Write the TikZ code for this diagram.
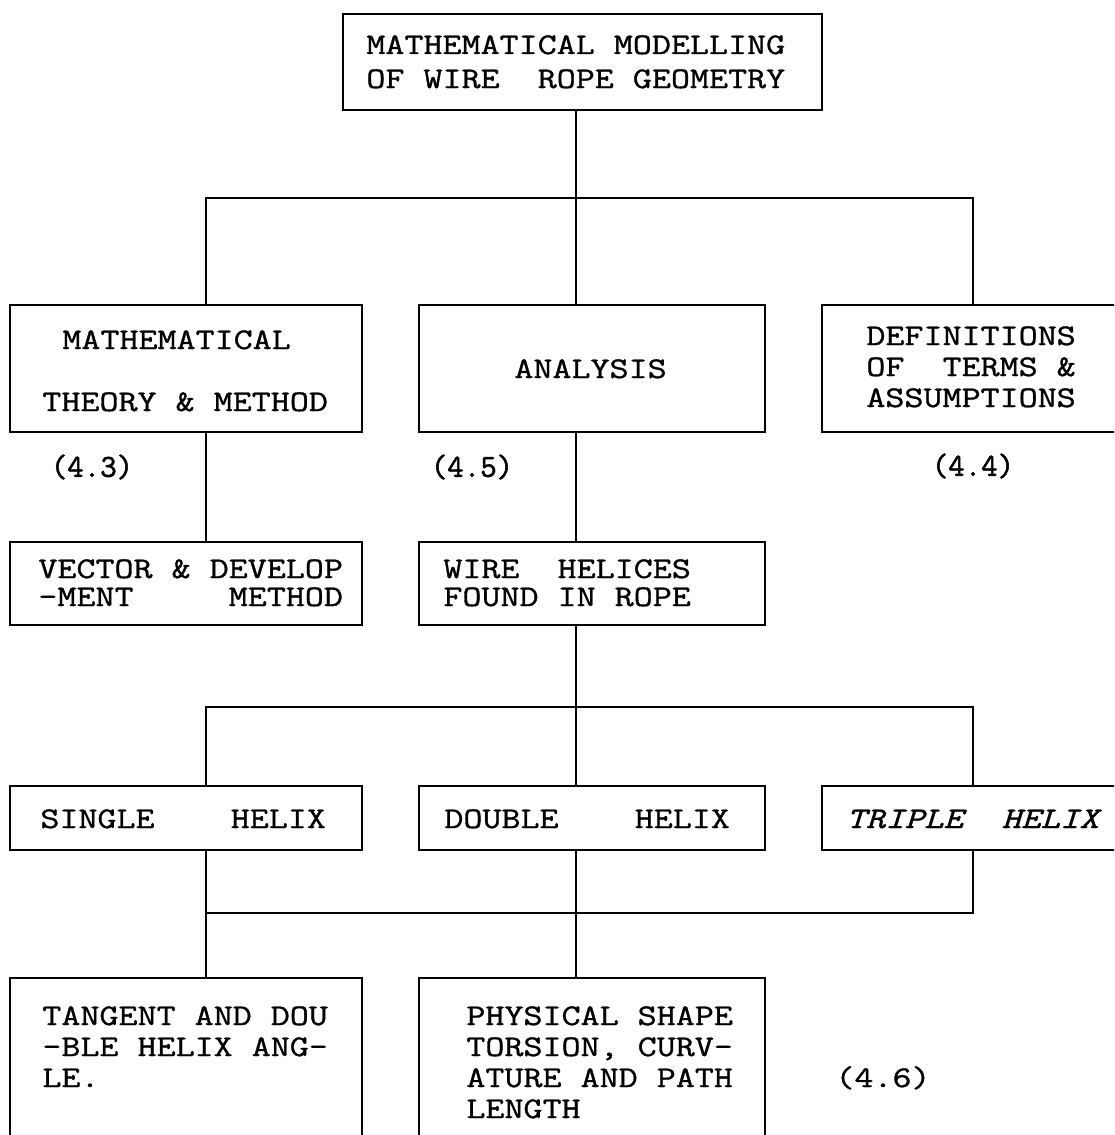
\documentclass[tikz,border=0pt]{standalone}
\usepackage{fontspec}
\usetikzlibrary{fit}
% typewriter-style lettering: a widened slab-serif mono face
\newfontfamily\boxfont[FakeStretch=1.232,FakeBold=1.1]{Latin Modern Mono}
\newfontfamily\refnumfont[FakeBold=1.8]{Latin Modern Mono}

\tikzset{
  box/.style={draw, line width=1.3pt, inner sep=0pt, fill=white},
  link/.style={line width=1pt},
  txt/.style={inner sep=0pt, anchor=base west,
    font=\boxfont\fontsize{15}{18}\selectfont},
  itxt/.style={txt, font=\boxfont\itshape\fontsize{15}{18}\selectfont},
  secnum/.style={inner sep=0pt, anchor=center,
    font=\refnumfont\fontsize{16}{18}\selectfont},
}

\begin{document}
\begin{tikzpicture}[x=0.5pt, y=-0.5pt]
\useasboundingbox (0,0) rectangle (1114,1135);
\clip (0,0) rectangle (1114,1135);
\fill[white] (0,0) rectangle (1114,1135);

% ---- bus junctions ----
\coordinate (busL) at (206,198);
\coordinate (busM) at (576,198);
\coordinate (busR) at (973,198);
\coordinate (bus2L) at (206,707);
\coordinate (bus2M) at (576,707);
\coordinate (bus2R) at (973,707);
\coordinate (bus3L) at (206,913);
\coordinate (bus3M) at (576,913);
\coordinate (bus3R) at (973,913);

% ---- boxes ----
\node[box, fit={(343,14) (822,110)}] (top) {};
\node[box, fit={(10,305) (362,432)}] (math) {};
\node[box, fit={(419,305) (765,432)}] (anal) {};
\node[box, fit={(822,305) (1125,432)}] (defs) {};
\node[box, fit={(10,542) (362,625)}] (vec) {};
\node[box, fit={(419,542) (765,625)}] (wire) {};
\node[box, fit={(10,786) (362,850)}] (single) {};
\node[box, fit={(419,786) (765,850)}] (double) {};
\node[box, fit={(822,786) (1125,850)}] (triple) {};
\node[box, fit={(10,978) (362,1160)}] (tang) {};
\node[box, fit={(419,978) (765,1160)}] (phys) {};

% ---- connectors ----
\draw[link] (busM |- top.south) -- (busM |- anal.north);
\draw[link] (busL |- math.north) -- (busL) -- (busR) -- (busR |- defs.north);
\draw[link] (busL |- math.south) -- (busL |- vec.north);
\draw[link] (busM |- anal.south) -- (busM |- wire.north);
\draw[link] (bus2M |- wire.south) -- (bus2M |- double.north);
\draw[link] (bus2L |- single.north) -- (bus2L) -- (bus2R) -- (bus2R |- triple.north);
\draw[link] (bus3L |- single.south) -- (bus3L |- tang.north);
\draw[link] (bus3M |- double.south) -- (bus3M |- phys.north);
\draw[link] (bus3R |- triple.south) -- (bus3R) -- (bus3L);

% ---- box texts ----
\node[txt] (topA) at (366,54) {MATHEMATICAL MODELLING};
\node[txt] (topB) at (366,88) {OF WIRE\ \ ROPE GEOMETRY};

\node[txt] (mathA) at (62,349) {MATHEMATICAL};
\node[txt] (mathB) at (42,411) {THEORY \& METHOD};

\node[txt] (analA) at (514,378) {ANALYSIS};

\node[txt] (defsA) at (866,345) {DEFINITIONS};
\node[txt] (defsB) at (866,376) {OF\ \ TERMS \&};
\node[txt] (defsC) at (866,407) {ASSUMPTIONS};

\node[txt] (vecA) at (38,578) {VECTOR \& DEVELOP};
\node[txt] (vecB) at (38,606) {-MENT\ \ \ \ \ METHOD};

\node[txt] (wireA) at (443,578) {WIRE\ \ HELICES};
\node[txt] (wireB) at (443,606) {FOUND IN ROPE};

\node[txt] (singleA) at (40,828) {SINGLE\ \ \ \ HELIX};
\node[txt] (doubleA) at (444,828) {DOUBLE\ \ \ \ HELIX};
\node[itxt] (tripleA) at (846,828) {TRIPLE\ \ HELIX};

\node[txt] (tangA) at (42,1025) {TANGENT AND DOU};
\node[txt] (tangB) at (42,1056) {-BLE HELIX ANG-};
\node[txt] (tangC) at (42,1087) {LE.};

\node[txt] (physA) at (466,1025) {PHYSICAL SHAPE};
\node[txt] (physB) at (466,1056) {TORSION, CURV-};
\node[txt] (physC) at (466,1087) {ATURE AND PATH};
\node[txt] (physD) at (466,1118) {LENGTH};

% ---- section numbers ----
\node[secnum] (s43) at (92,467) {(4.3)};
\node[secnum] (s45) at (472,467) {(4.5)};
\node[secnum] (s44) at (973,466) {(4.4)};
\node[txt] (s46) at (835,1087) {(4.6)};
\end{tikzpicture}
\end{document}
